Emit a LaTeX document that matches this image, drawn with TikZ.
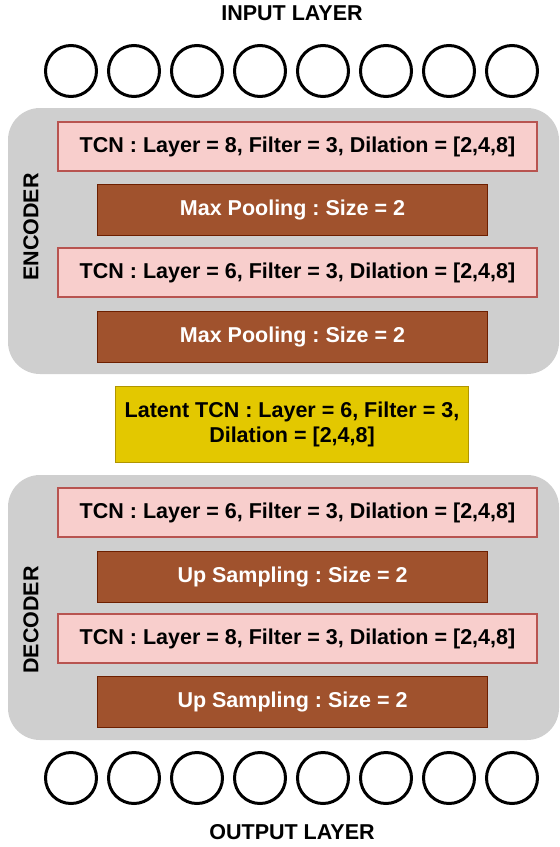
\documentclass[tikz,border=0pt]{standalone}
\usepackage{fontspec}
\setmainfont{Liberation Sans}
\usetikzlibrary{positioning}
\definecolor{blockgray}{HTML}{CFCFCF}
\definecolor{tcnfill}{HTML}{F8CECC}
\definecolor{tcnline}{HTML}{B85450}
\definecolor{poolfill}{HTML}{A0522D}
\definecolor{poolline}{HTML}{6D1F00}
\definecolor{latentfill}{HTML}{E3C800}
\definecolor{latentline}{HTML}{B09500}
\frenchspacing

\begin{document}
\begin{tikzpicture}[x=1pt,y=-1pt,
  font=\fontsize{21.5}{24.5}\selectfont\bfseries,
  tcnbox/.style={draw=tcnline,fill=tcnfill,line width=2pt,minimum width=479pt,minimum height=49pt,inner sep=0pt},
  poolbox/.style={draw=poolline,fill=poolfill,text=white,line width=1pt,minimum width=390pt,minimum height=51pt,inner sep=0pt},
  latentbox/.style={draw=latentline,fill=latentfill,line width=1pt,minimum width=353pt,minimum height=76pt,align=center,inner sep=0pt},
  neuron/.style={circle,draw=black,line width=3pt,minimum size=51pt,inner sep=0pt},
  sidelabel/.style={rotate=90,inner sep=0pt}]
  \useasboundingbox (0,0) rectangle (560,847);
  % grey blocks
  \fill[blockgray,rounded corners=32pt] (8,108) rectangle (559,374);
  \fill[blockgray,rounded corners=32pt] (8,475) rectangle (559,740);
  % input and output layers
  \node[inner sep=0pt] (inlabel) at (292,13) {INPUT LAYER};
  \node[inner sep=0pt] (outlabel) at (292,832) {OUTPUT LAYER};
  \foreach \i in {1,...,8} {
    \node[neuron] (in\i) at ({71+63*(\i-1)},71) {};
    \node[neuron] (out\i) at ({71+63*(\i-1)},778) {};
  }
  % encoder
  \node[sidelabel] (enclabel) at (31,227) {ENCODER};
  \node[tcnbox] (tcnA) at (297.5,146.5) {TCN : Layer = 8, Filter = 3, Dilation = [2,4,8]};
  \node[poolbox] (poolA) at (292.5,210) {Max Pooling : Size = 2};
  \node[tcnbox] (tcnB) at (297.5,272.5) {TCN : Layer = 6, Filter = 3, Dilation = [2,4,8]};
  \node[poolbox] (poolB) at (292.5,336.5) {Max Pooling : Size = 2};
  % latent
  \node[latentbox] (latent) at (292,424.5) {Latent TCN : Layer = 6, Filter = 3,\\Dilation = [2,4,8]};
  % decoder
  \node[sidelabel] (declabel) at (31,620) {DECODER};
  \node[tcnbox] (tcnC) at (297.5,512.5) {TCN : Layer = 6, Filter = 3, Dilation = [2,4,8]};
  \node[poolbox] (upA) at (292.5,576.5) {Up Sampling : Size = 2};
  \node[tcnbox] (tcnD) at (297.5,638.5) {TCN : Layer = 8, Filter = 3, Dilation = [2,4,8]};
  \node[poolbox] (upB) at (292.5,701.5) {Up Sampling : Size = 2};
\end{tikzpicture}
\end{document}
